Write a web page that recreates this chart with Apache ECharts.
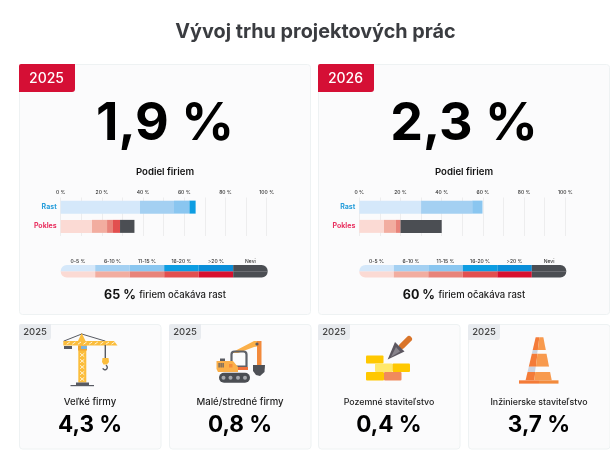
<!DOCTYPE html>
<html><head><meta charset="utf-8">
<style>html,body{margin:0;padding:0;background:#fff}#c{width:610px;height:458px}</style>
<script src="https://cdn.jsdelivr.net/npm/echarts@6/dist/echarts.min.js"></script>
</head><body><div id="c"></div>
<script>
const chartTitle = 'Vývoj trhu projektových prác';
const years = ['2025', '2026'];
const headline = ['1,9 %', '2,3 %'];
const rows = ['Rast', 'Pokles'];
const rast2025 = [38.5, 16.5, 7.5, 3];
const pokles2025 = [15.2, 7.3, 2.9, 3.4, 0, 7];
const rast2026 = [30, 24.8, 5, 0];
const pokles2026 = [12, 5.8, 2.2, 0, 0, 20];
const bandLabels = ['0-5 %', '6-10 %', '11-15 %', '16-20 %', '>20 %', 'Nevi'];
const blues = ['#d5e8fa', '#a4d0f2', '#8ac6f0', '#0d9de2', '#0a8ed9', '#4b4e53'];
const reds = ['#fbdad4', '#f2ada0', '#e8837a', '#e24f4f', '#d8102f', '#4b4e53'];
const expect = ['65 %', '60 %'];
const expectText = 'firiem očakáva rast';
const smallYears = ['2025', '2025', '2025', '2025'];
const smallNames = ['Veľké firmy', 'Malé/stredné firmy', 'Pozemné staviteľstvo', 'Inžinierske staviteľstvo'];
const smallValues = ['4,3 %', '0,8 %', '0,4 %', '3,7 %'];

const FONT = 'Inter, "Noto Sans", sans-serif';
const chart = echarts.init(document.getElementById('c'), null, {renderer: 'canvas'});
const g = [];
const rect = (x, y, w, h, fill, r, z, stroke) => g.push({type: 'rect', z: z || 0, shape: {x, y, width: w, height: h, r: r || 0}, style: {fill, stroke: stroke || null, lineWidth: stroke ? 1 : 0}});
const poly = (pts, fill, z) => g.push({type: 'polygon', z: z || 5, shape: {points: pts}, style: {fill}});
const line = (x1, y1, x2, y2, stroke, w, z) => g.push({type: 'line', z: z || 5, shape: {x1, y1, x2, y2}, style: {stroke, lineWidth: w, lineCap: 'round'}});
const circ = (cx, cy, r, fill, z) => g.push({type: 'circle', z: z || 6, shape: {cx, cy, r}, style: {fill}});
const text = (x, y, t, size, weight, color) => g.push({type: 'text', z: 10, style: {x, y, text: t, align: 'center', verticalAlign: 'middle', fill: color, font: `${weight} ${size}px ${FONT}`}});

text(315.5, 32, chartTitle, 19.8, 700, '#3a3c40');

const bigX = [19, 318], centers = [165, 464];
years.forEach((yr, i) => {
  rect(bigX[i] + .5, 64.5, 291, 250, '#fbfbfc', 3, 0, '#eef2f3');
  rect(bigX[i], 64, 56, 28, '#d50f35', [2, 0, 3, 0], 1);
  text(bigX[i] + 27.5, 78.5, yr, 14, 500, '#fff');
  text(centers[i], 124, headline[i], 52, 700, '#000');
  text(centers[i], 172.5, 'Podiel firiem', 9.6, 600, '#111');
  g.push({type: 'text', z: 10, style: {x: centers[i], y: 295.5, align: 'center', verticalAlign: 'middle',
    text: `{a|${expect[i]}} {b|${expectText}}`,
    rich: {a: {font: `700 12.5px ${FONT}`, fill: '#111'}, b: {font: `500 9.5px ${FONT}`, fill: '#222'}}}});
});

const smallX = [19, 169, 318, 468];
const nameSize = [9.6, 9.6, 8.8, 8.8];
smallYears.forEach((yr, i) => {
  rect(smallX[i] + .5, 324.5, 141.5, 124.5, '#fbfbfc', 3, 0, '#eef2f3');
  rect(smallX[i], 324, 32, 16, '#e8ebef', [2, 0, 3, 0], 1);
  text(smallX[i] + 16, 332, yr, 9.5, 500, '#444');
  text(smallX[i] + 71, 402, smallNames[i], nameSize[i], 500, '#222');
  text(smallX[i] + 71, 425.5, smallValues[i], 22.5, 700, '#000');
});

/* crane icon */
const Y = '#fbbd3c', Ydk = '#f0a52e', DK = '#585b63';
line(64, 341, 81.7, 334, DK, 1); line(81.7, 334, 105, 341, DK, 1);
poly([[78, 341], [81.7, 333], [85.5, 341]], Y);
poly([[63.3, 341], [114, 341], [117.5, 345.5], [63.3, 345.5]], Y);
for (let k = 0; k < 9; k++) line(67 + k * 5.6, 344, 69.5 + k * 5.6, 342.2, '#fff3d6', 1, 6);
rect(64, 346, 8, 3, DK, 0, 5);
rect(78.3, 345.5, 8, 37, Y, 0, 5);
rect(78, 345.5, 9, 5, Ydk, 0, 5);
rect(81, 346, 6, 3, '#7fb4d8', 0, 6);
for (let k = 0; k < 5; k++) { line(80.5, 353.5 + k * 6, 84, 356.5 + k * 6, '#fff3d6', 1, 6); line(84, 353.5 + k * 6, 80.5, 356.5 + k * 6, '#fff3d6', 1, 6); }
line(105.3, 345.5, 105.3, 358, DK, 1.4);
poly([[102.5, 358], [108.5, 358], [109, 362], [107, 364.5], [103.5, 364.5], [102, 362]], Y);
g.push({type: 'arc', z: 6, shape: {cx: 105, cy: 367.5, r: 2.3, startAngle: -1.2, endAngle: 2.8}, style: {stroke: DK, lineWidth: 1.4, fill: null}});
rect(76, 382.5, 13, 3, DK, 0, 5);
rect(70.5, 385, 23.5, 1.2, DK, 0, 5);

/* excavator icon */
const O = '#fbb04a', OO = '#f28a3c';
poly([[231, 353], [254, 341], [260, 341], [260, 346], [254, 347], [238, 353]], O);
poly([[257, 341], [261.5, 341], [261.5, 366], [257, 366]], OO);
circ(257, 344, 1.6, DK);
poly([[253, 365], [265, 365], [264.5, 372], [260, 376], [256, 375], [253, 371]], '#4e5056');
g.push({type: 'rect', z: 5, shape: {x: 231.5, y: 351.5, width: 15, height: 15, r: [3, 3, 0, 0]}, style: {fill: null, stroke: '#5e6168', lineWidth: 2.2}});
poly([[216.5, 361], [233, 361], [238, 367], [238, 372], [218, 372], [216.5, 369]], O);
rect(238, 367, 10, 3, '#f0703a', 0, 6);
rect(220, 358.5, 5, 2.5, DK, 0, 6);
[218.5, 220.5, 222.5].forEach(x => rect(x, 363, 1.2, 4.5, DK, 0, 6));
rect(229, 364, 3.5, 3.5, OO, 0, 6);
rect(219, 372.7, 31, 10, '#4b4e53', 5, 5);
[223.5, 230.5, 238, 245].forEach(x => circ(x, 377.7, 2, '#a7a9ad'));

/* bricks and trowel icon */
const B = '#ffc800';
rect(366, 355.5, 17.5, 8, B, 1, 5);
rect(375, 363.5, 17.5, 8.5, '#ffe86a', 1, 5);
rect(392.5, 363.5, 17.5, 8.5, B, 1, 5);
rect(366, 372, 18, 8.5, B, 1, 5);
rect(384, 372, 17.5, 8.5, '#f08a5d', 1, 5);
line(402, 346, 409, 339, '#d9752b', 6, 5);
poly([[395, 342], [387.7, 359.5], [404.5, 351.5]], '#5c5760', 6);
poly([[396, 347], [391, 357], [400, 351.5]], '#87838b', 7);

/* cone icon */
const L = '#f47b38', R = '#f89a4e';
const cy = v => 330 + v / 3, cx = v => 505 + v / 3;
const lx = y => 92 - (y - 22) * 30 / 128, rx = y => 115 + (y - 22) * 25 / 128, mx = y => 103 - (y - 22) * 15 / 128;
const band = (y1, y2, a, b) => { poly([[cx(lx(y1)), cy(y1)], [cx(mx(y1)), cy(y1)], [cx(mx(y2)), cy(y2)], [cx(lx(y2)), cy(y2)]], a); poly([[cx(mx(y1)), cy(y1)], [cx(rx(y1)), cy(y1)], [cx(rx(y2)), cy(y2)], [cx(mx(y2)), cy(y2)]], b); };
band(22, 60, L, R); band(60, 71, '#ccd3e0', '#fbfbfc'); band(71, 110, L, R); band(110, 126, '#ccd3e0', '#fbfbfc'); band(126, 151, L, R);
rect(cx(42), cy(151), 20, 3.3, L, 0, 5);
rect(cx(102), cy(151), 19.5, 3.3, OO, 0, 5);

const grids = [], xAxes = [], yAxes = [], series = [];
const addBars = (vals, dataPos, palette, gi) => vals.forEach((v, k) => {
  const d = [null, null]; d[dataPos] = v;
  series.push({type: 'bar', xAxisIndex: gi, yAxisIndex: gi, stack: 's' + gi, barWidth: 13, data: d, itemStyle: {color: palette[k]}, silent: true});
});
[[60.7, rast2025, pokles2025], [359.3, rast2026, pokles2026]].forEach(([left, ra, po]) => {
  const gi = grids.length;
  grids.push({left, width: 206, top: 197.5, height: 38.5});
  xAxes.push({gridIndex: gi, type: 'value', position: 'top', min: 0, max: 100, interval: 10,
    axisLine: {show: false}, axisTick: {show: false},
    splitLine: {show: true, lineStyle: {color: '#ededee', width: 1}},
    axisLabel: {margin: 2.5, fontSize: 5, fontWeight: 500, color: '#333', fontFamily: FONT, formatter: v => v % 20 === 0 ? v + ' %' : ''}});
  yAxes.push({gridIndex: gi, type: 'category', inverse: true, data: rows,
    axisLine: {show: false}, axisTick: {show: false},
    axisLabel: {margin: 4, fontSize: 7, fontWeight: 700, fontFamily: FONT, color: v => v === rows[0] ? '#2a9fdb' : '#e8305f'}});
  addBars(ra, 0, blues, gi);
  addBars(po, 1, reds, gi);
});
[60.7, 359.3].forEach(left => {
  const gi = grids.length;
  grids.push({left, width: 207, top: 265, height: 12.4});
  xAxes.push({gridIndex: gi, type: 'category', position: 'top', data: bandLabels,
    axisLine: {show: false}, axisTick: {show: false},
    axisLabel: {margin: 1.5, fontSize: 5, fontWeight: 500, color: '#333', fontFamily: FONT, interval: 0}});
  yAxes.push({gridIndex: gi, type: 'value', min: 0, max: 2, show: false});
  const n = bandLabels.length;
  [[reds, [0, 0, 0, 6], [0, 0, 6, 0]], [blues, [6, 0, 0, 0], [0, 6, 0, 0]]].forEach(([pal, first, last]) => {
    series.push({type: 'bar', xAxisIndex: gi, yAxisIndex: gi, stack: 'l' + gi, barWidth: '100%', silent: true,
      data: pal.map((c, k) => ({value: 1, itemStyle: {color: c, borderRadius: k === 0 ? first : k === n - 1 ? last : 0}}))});
  });
});

chart.setOption({animation: false, grid: grids, xAxis: xAxes, yAxis: yAxes, series, graphic: g, tooltip: {show: false}});
</script></body></html>
